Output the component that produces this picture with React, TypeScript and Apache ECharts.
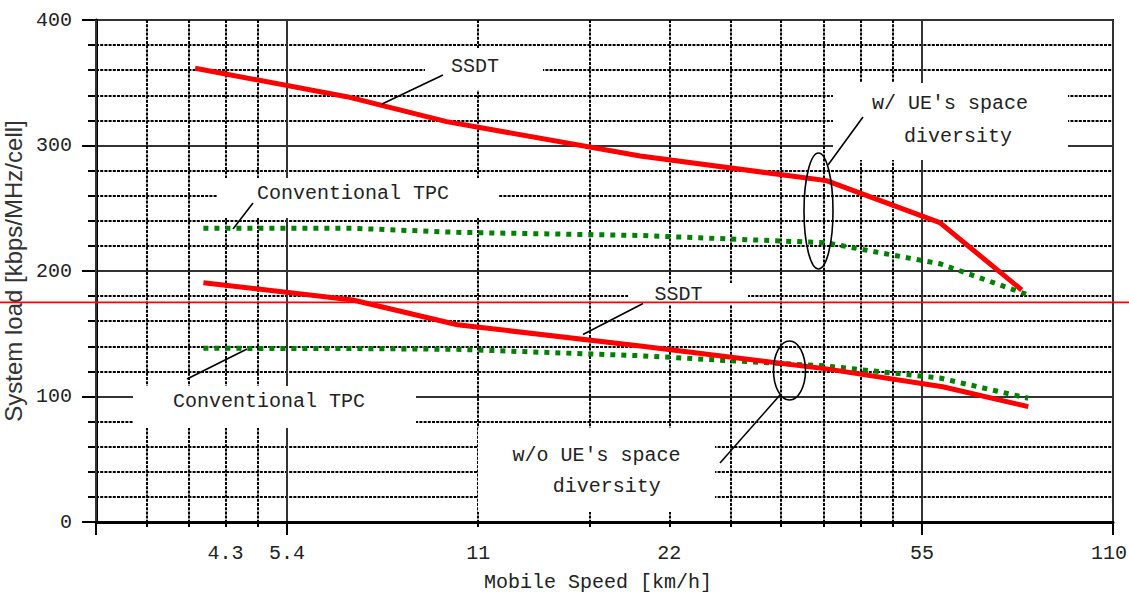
import React, { useEffect, useRef } from "react";
import * as echarts from "echarts";

// ---- data ----
const ssdtWithSpeeds = [3.94, 6.83, 9.81, 19.8, 38.9, 58.7, 79.0];
const ssdtWithLoad = [361.5, 338.9, 319.0, 291.6, 272.0, 238.5, 184.9];
const tpcWithSpeeds = [4.06, 6.98, 10.2, 19.8, 38.9, 58.7, 80.9];
const tpcWithLoad = [234.0, 234.0, 230.8, 228.3, 222.5, 205.8, 180.9];
const ssdtWithoutSpeeds = [4.06, 6.98, 10.2, 19.8, 38.9, 59.3, 80.9];
const ssdtWithoutLoad = [190.7, 176.9, 157.2, 140.2, 122.0, 107.8, 91.9];
const tpcWithoutSpeeds = [4.06, 6.98, 10.2, 19.8, 38.9, 58.7, 80.9];
const tpcWithoutLoad = [138.4, 138.2, 137.6, 132.5, 124.3, 114.7, 98.6];

const speedMin = 2.75;
const speedMax = 110;
const majorGridSpeeds = [2.75, 5.5, 55, 110];
const minorGridSpeeds = [3.3, 3.85, 4.4, 4.95, 11, 16.5, 22, 27.5, 33, 38.5, 44, 49.5];
const tickLabelSpeeds = [4.4, 5.5, 11, 22, 55, 110];
const tickLabelTexts = ["4.3", "5.4", "11", "22", "55", "110"];
const loadMin = 0;
const loadMax = 400;
const loadInterval = 100;
const referenceLoad = 175;

const MONO = "'Liberation Mono', 'DejaVu Sans Mono', monospace";
const lg = (v: number) => Math.log10(v);
const toData = (sp: number[], ld: number[]) => sp.map((s, i) => [lg(s), ld[i]]);

const dotted = { color: "#000", width: 2, type: [3, 1.2] as number[] };
const solid = { color: "#333", width: 2, type: "solid" as const };

function buildGraphics(refY: number) {
  const els: any[] = [];
  const box = (x: number, y: number, w: number, h: number) =>
    els.push({ type: "rect", z: 5, shape: { x, y, width: w, height: h }, style: { fill: "#fff" } });
  const txt = (t: string, x: number, y: number) =>
    els.push({
      type: "text", z: 20, x, y,
      style: { text: t, fontFamily: MONO, fontSize: 20, fill: "#222", align: "center", verticalAlign: "middle" },
    });
  const ln = (x1: number, y1: number, x2: number, y2: number) =>
    els.push({ type: "line", z: 20, shape: { x1, y1, x2, y2 }, style: { stroke: "#000", lineWidth: 1.6 } });
  const ell = (cx: number, cy: number, rx: number, ry: number) =>
    els.push({ type: "ellipse", z: 20, shape: { cx, cy, rx, ry }, style: { fill: "none", stroke: "#000", lineWidth: 1.6 } });

  box(425, 48, 118, 42);
  txt("SSDT", 475, 66);
  ln(443, 75, 382, 104);

  box(217, 178, 281, 40);
  txt("Conventional TPC", 353, 193);
  ln(253, 203, 233, 229);

  box(833, 83, 235, 77);
  txt("w/ UE's space", 950, 103);
  txt("diversity", 958, 136);
  ln(863, 117, 828, 165);
  ell(818.5, 211, 14.5, 58);

  box(628, 283, 120, 22);
  txt("SSDT", 678.5, 294.5);
  ln(643, 303.5, 583, 334.5);

  box(133, 386, 283, 42);
  txt("Conventional TPC", 269, 401);
  ln(247, 349, 187, 379);

  box(478, 428, 237, 84);
  txt("w/o UE's space", 596.5, 455);
  txt("diversity", 606.7, 486);
  ln(780, 395, 720, 463);
  ell(789.5, 370.5, 16, 29.5);

  els.push({
    type: "line", z: 50, shape: { x1: 0, y1: refY, x2: 1129, y2: refY },
    style: { stroke: "#ff0000", lineWidth: 1.6 },
  });
  return els;
}

export default function App() {
  const ref = useRef<HTMLDivElement>(null);
  useEffect(() => {
    if (!ref.current) return;
    const chart = echarts.init(ref.current, undefined, { renderer: "svg" });
    const lastLabel = tickLabelTexts[tickLabelTexts.length - 1];
    const labelFormatter = (val: number) => {
      const i = tickLabelSpeeds.findIndex((s) => Math.abs(lg(s) - val) < 1e-6);
      if (i < 0) return "";
      return i === tickLabelTexts.length - 1 ? "{r|" + lastLabel + "}" : tickLabelTexts[i];
    };
    const redLine = { color: "#ff0000", width: 5, type: "solid" as const };
    const greenLine = { color: "#008000", width: 5, type: [5, 6] as number[], cap: "butt" as const };
    chart.setOption({
      animation: false,
      backgroundColor: "#fff",
      grid: {
        left: 96, top: 20, width: 1017, height: 502,
        show: true, borderColor: "#000", borderWidth: 2, backgroundColor: "transparent",
        containLabel: false, outerBoundsMode: "none",
      },
      xAxis: [
        {
          type: "value", position: "bottom", min: lg(speedMin), max: lg(speedMax),
          name: "Mobile Speed [km/h]", nameLocation: "middle", nameGap: 50,
          nameTextStyle: { fontFamily: MONO, fontSize: 20, color: "#222", padding: [0, 13, 0, 0] },
          axisLine: { show: true, lineStyle: { color: "#000", width: 3 } },
          axisTick: { show: true, inside: false, length: 13, customValues: majorGridSpeeds.map(lg), lineStyle: { color: "#000", width: 2 } },
          axisLabel: {
            show: true, margin: 21, customValues: tickLabelSpeeds.map(lg), formatter: labelFormatter,
            fontFamily: MONO, fontSize: 20, color: "#222",
            rich: { r: { fontFamily: MONO, fontSize: 20, color: "#222", padding: [0, 8, 0, 0] } },
          },
          splitLine: { show: true, lineStyle: solid },
          z: 1,
        },
        {
          type: "value", position: "bottom", min: lg(speedMin), max: lg(speedMax),
          axisLine: { show: false },
          axisTick: { show: true, inside: false, length: 5, customValues: minorGridSpeeds.map(lg), lineStyle: { color: "#000", width: 2 } },
          axisLabel: { show: false },
          splitLine: { show: true, lineStyle: dotted },
          z: 0,
        },
      ],
      yAxis: {
        type: "value", min: loadMin, max: loadMax, interval: loadInterval,
        name: "System load [kbps/MHz/cell]", nameLocation: "middle", nameGap: 64,
        nameTextStyle: { fontFamily: "'Liberation Sans', Arial, sans-serif", fontSize: 24, color: "#333" },
        axisLine: { show: true, lineStyle: { color: "#000", width: 3 } },
        axisTick: { show: true, inside: false, length: 14, lineStyle: { color: "#000", width: 2 } },
        minorTick: { show: true, splitNumber: 5, length: 8, lineStyle: { color: "#000", width: 2 } },
        axisLabel: { margin: 24, fontFamily: MONO, fontSize: 20, color: "#222" },
        splitLine: { show: true, lineStyle: solid },
        minorSplitLine: { show: true, lineStyle: dotted },
      },
      series: [
        { name: "SSDT (w/)", type: "line", xAxisIndex: 0, symbol: "none", lineStyle: redLine, data: toData(ssdtWithSpeeds, ssdtWithLoad), z: 10 },
        { name: "Conventional TPC (w/)", type: "line", xAxisIndex: 0, symbol: "none", lineStyle: greenLine, data: toData(tpcWithSpeeds, tpcWithLoad), z: 9 },
        { name: "SSDT (w/o)", type: "line", xAxisIndex: 0, symbol: "none", lineStyle: redLine, data: toData(ssdtWithoutSpeeds, ssdtWithoutLoad), z: 10 },
        { name: "Conventional TPC (w/o)", type: "line", xAxisIndex: 0, symbol: "none", lineStyle: greenLine, data: toData(tpcWithoutSpeeds, tpcWithoutLoad), z: 9 },
      ],
    });
    const refY = chart.convertToPixel({ yAxisIndex: 0 }, referenceLoad) as number;
    chart.setOption({ graphic: { elements: buildGraphics(refY) } });
    return () => chart.dispose();
  }, []);
  return (
    <div
      ref={ref}
      style={{ position: "absolute", left: 0, top: 0, width: 1129, height: 597, background: "#fff" }}
    />
  );
}
